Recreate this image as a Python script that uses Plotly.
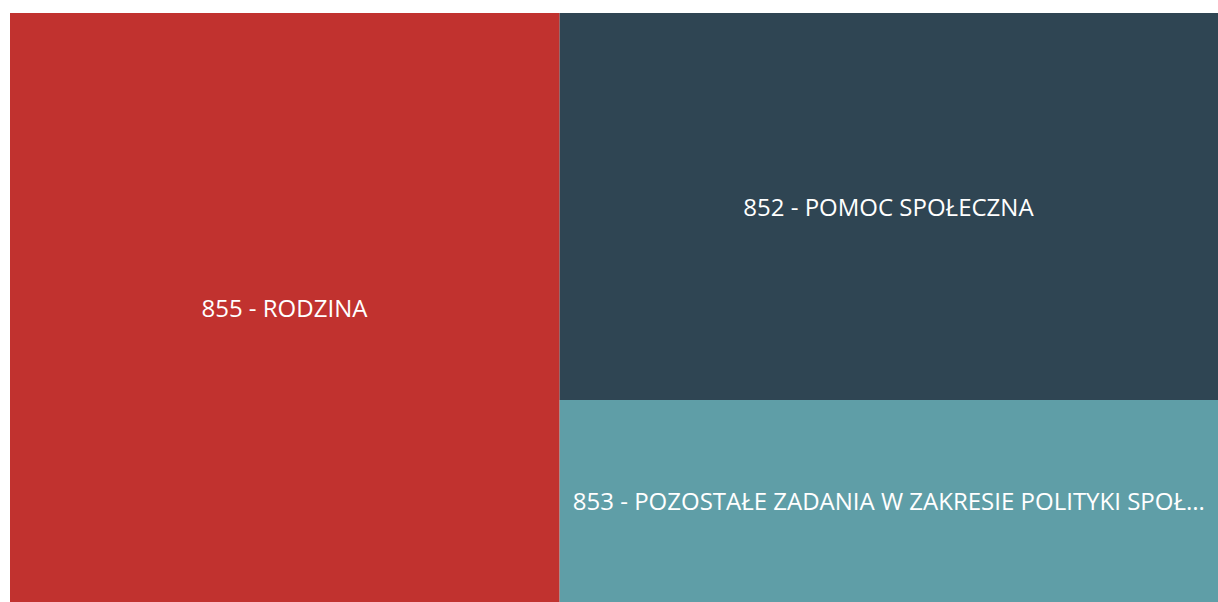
import plotly.graph_objects as go

# Budget chapters (dział) and their share of spending
labels = [
    "855 - RODZINA",
    "852 - POMOC SPOŁECZNA",
    "853 - POZOSTAŁE ZADANIA W ZAKRESIE POLITYKI SPOŁECZNEJ",
]
display_text = [
    "855 - RODZINA",
    "852 - POMOC SPOŁECZNA",
    "853 - POZOSTAŁE ZADANIA W ZAKRESIE POLITYKI SPOŁ...",
]
values = [45.5, 35.8, 18.7]
colors = ["#C1322F", "#2F4553", "#5F9EA7"]

fig = go.Figure(
    go.Treemap(
        labels=labels,
        parents=[""] * len(labels),
        values=values,
        text=display_text,
        texttemplate="%{text}",
        textposition="middle center",
        textfont=dict(family="Open Sans", size=24, color="#FFFFFF"),
        marker=dict(colors=colors, line=dict(width=0), pad=dict(t=0, l=0, r=0, b=0)),
        tiling=dict(packing="squarify", squarifyratio=1.7, pad=0),
        pathbar=dict(visible=False),
        sort=True,
        root=dict(color="#FFFFFF"),
    )
)

fig.update_layout(
    width=1218,
    height=602,
    margin=dict(l=10, r=0, t=13, b=0),
    paper_bgcolor="#FFFFFF",
    showlegend=False,
)

fig.write_html("out.html")
